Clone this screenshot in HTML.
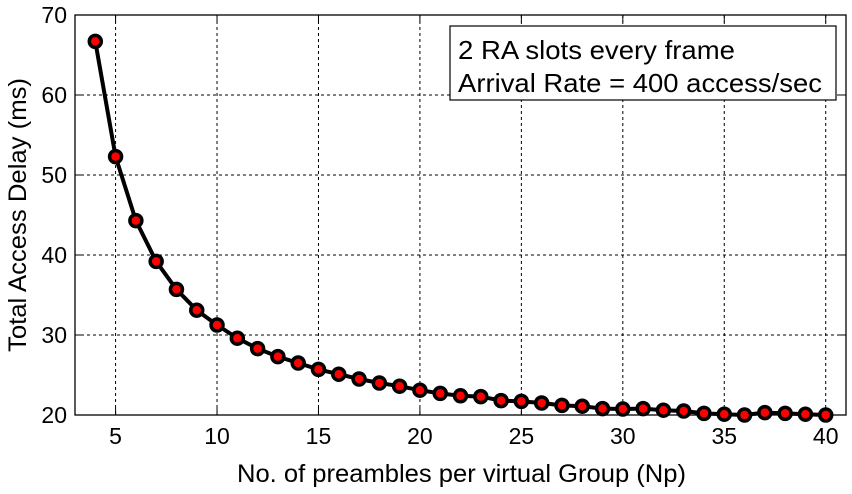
<!DOCTYPE html>
<html><head><meta charset="utf-8"><style>
html,body{margin:0;padding:0;background:#fff;}
svg{display:block;font-family:"Liberation Sans",Arial,sans-serif;}
</style></head><body>
<svg id="chart" width="852" height="494" viewBox="0 0 852 494">
<g id="grid"></g>
<rect x="75" y="15" width="771" height="400" fill="none" stroke="#000" stroke-width="1.3"/>
<g id="ticks"></g>
<g id="series"></g>
<g>
<rect x="450" y="26" width="386" height="74" fill="#fff" stroke="#000" stroke-width="1.2"/>
<text x="458" y="59" font-size="26" textLength="277" lengthAdjust="spacingAndGlyphs">2 RA slots every frame</text>
<text x="458" y="92" font-size="26" textLength="364" lengthAdjust="spacingAndGlyphs">Arrival Rate = 400 access/sec</text>
</g>
<text x="237" y="482" font-size="25" textLength="449" lengthAdjust="spacingAndGlyphs">No. of preambles per virtual Group (Np)</text>
<text transform="translate(26,352) rotate(-90)" font-size="25" textLength="274" lengthAdjust="spacingAndGlyphs">Total Access Delay (ms)</text>
</svg>
<script>
const xValues=[4,5,6,7,8,9,10,11,12,13,14,15,16,17,18,19,20,21,22,23,24,25,26,27,28,29,30,31,32,33,34,35,36,37,38,39,40];
const delays=[66.7,52.3,44.3,39.2,35.7,33.1,31.25,29.6,28.3,27.3,26.5,25.7,25.1,24.5,24.0,23.6,23.1,22.7,22.4,22.3,21.8,21.7,21.5,21.2,21.1,20.8,20.75,20.8,20.6,20.5,20.2,20.1,20.0,20.3,20.2,20.1,20.0];
const xTicks=[5,10,15,20,25,30,35,40];
const yTicks=[20,30,40,50,60,70];
const NS="http://www.w3.org/2000/svg";
const X0=75,X1=846,Y0=415,Y1=15,xmin=3,xmax=41,ymin=20,ymax=70;
function sx(v){return X0+(v-xmin)/(xmax-xmin)*(X1-X0);}
function sy(v){return Y0-(v-ymin)/(ymax-ymin)*(Y0-Y1);}
function mk(t,a,p){const e=document.createElementNS(NS,t);for(const k in a)e.setAttribute(k,a[k]);p.appendChild(e);return e;}
const grid=document.getElementById('grid'),ticks=document.getElementById('ticks'),series=document.getElementById('series');
xTicks.forEach(v=>{
 const l=mk('line',{x1:sx(v),x2:sx(v),y1:Y1,y2:Y0,stroke:'#000','stroke-width':1,'stroke-dasharray':'3,3'},grid);
 
 
 mk('line',{x1:sx(v),x2:sx(v),y1:Y0,y2:Y0-7,stroke:'#000'},ticks);
 mk('line',{x1:sx(v),x2:sx(v),y1:Y1,y2:Y1+7,stroke:'#000'},ticks);
 const t=mk('text',{x:sx(v),y:444,'font-size':23,'text-anchor':'middle'},ticks);t.textContent=v;
 
 
});
yTicks.forEach(v=>{
 if(v>ymin&&v<ymax){const l=mk('line',{x1:X0,x2:X1,y1:sy(v),y2:sy(v),stroke:'#000','stroke-width':1,'stroke-dasharray':'3,3'},grid);
 
 }
 mk('line',{x1:X0,x2:X0+7,y1:sy(v),y2:sy(v),stroke:'#000'},ticks);
 mk('line',{x1:X1,x2:X1-7,y1:sy(v),y2:sy(v),stroke:'#000'},ticks);
 const t=mk('text',{x:X0-8,y:sy(v)+8,'font-size':23,'text-anchor':'end'},ticks);t.textContent=v;
 
 
});
const pts=xValues.map((x,i)=>sx(x)+','+sy(delays[i])).join(' ');
const line=mk('polyline',{points:pts,fill:'none',stroke:'#000','stroke-width':4},series);


xValues.forEach((x,i)=>{
 const c=mk('circle',{cx:sx(x),cy:sy(delays[i]),r:6,fill:'#f00',stroke:'#000','stroke-width':3.5},series);
 
 
});
</script>
</body></html>
